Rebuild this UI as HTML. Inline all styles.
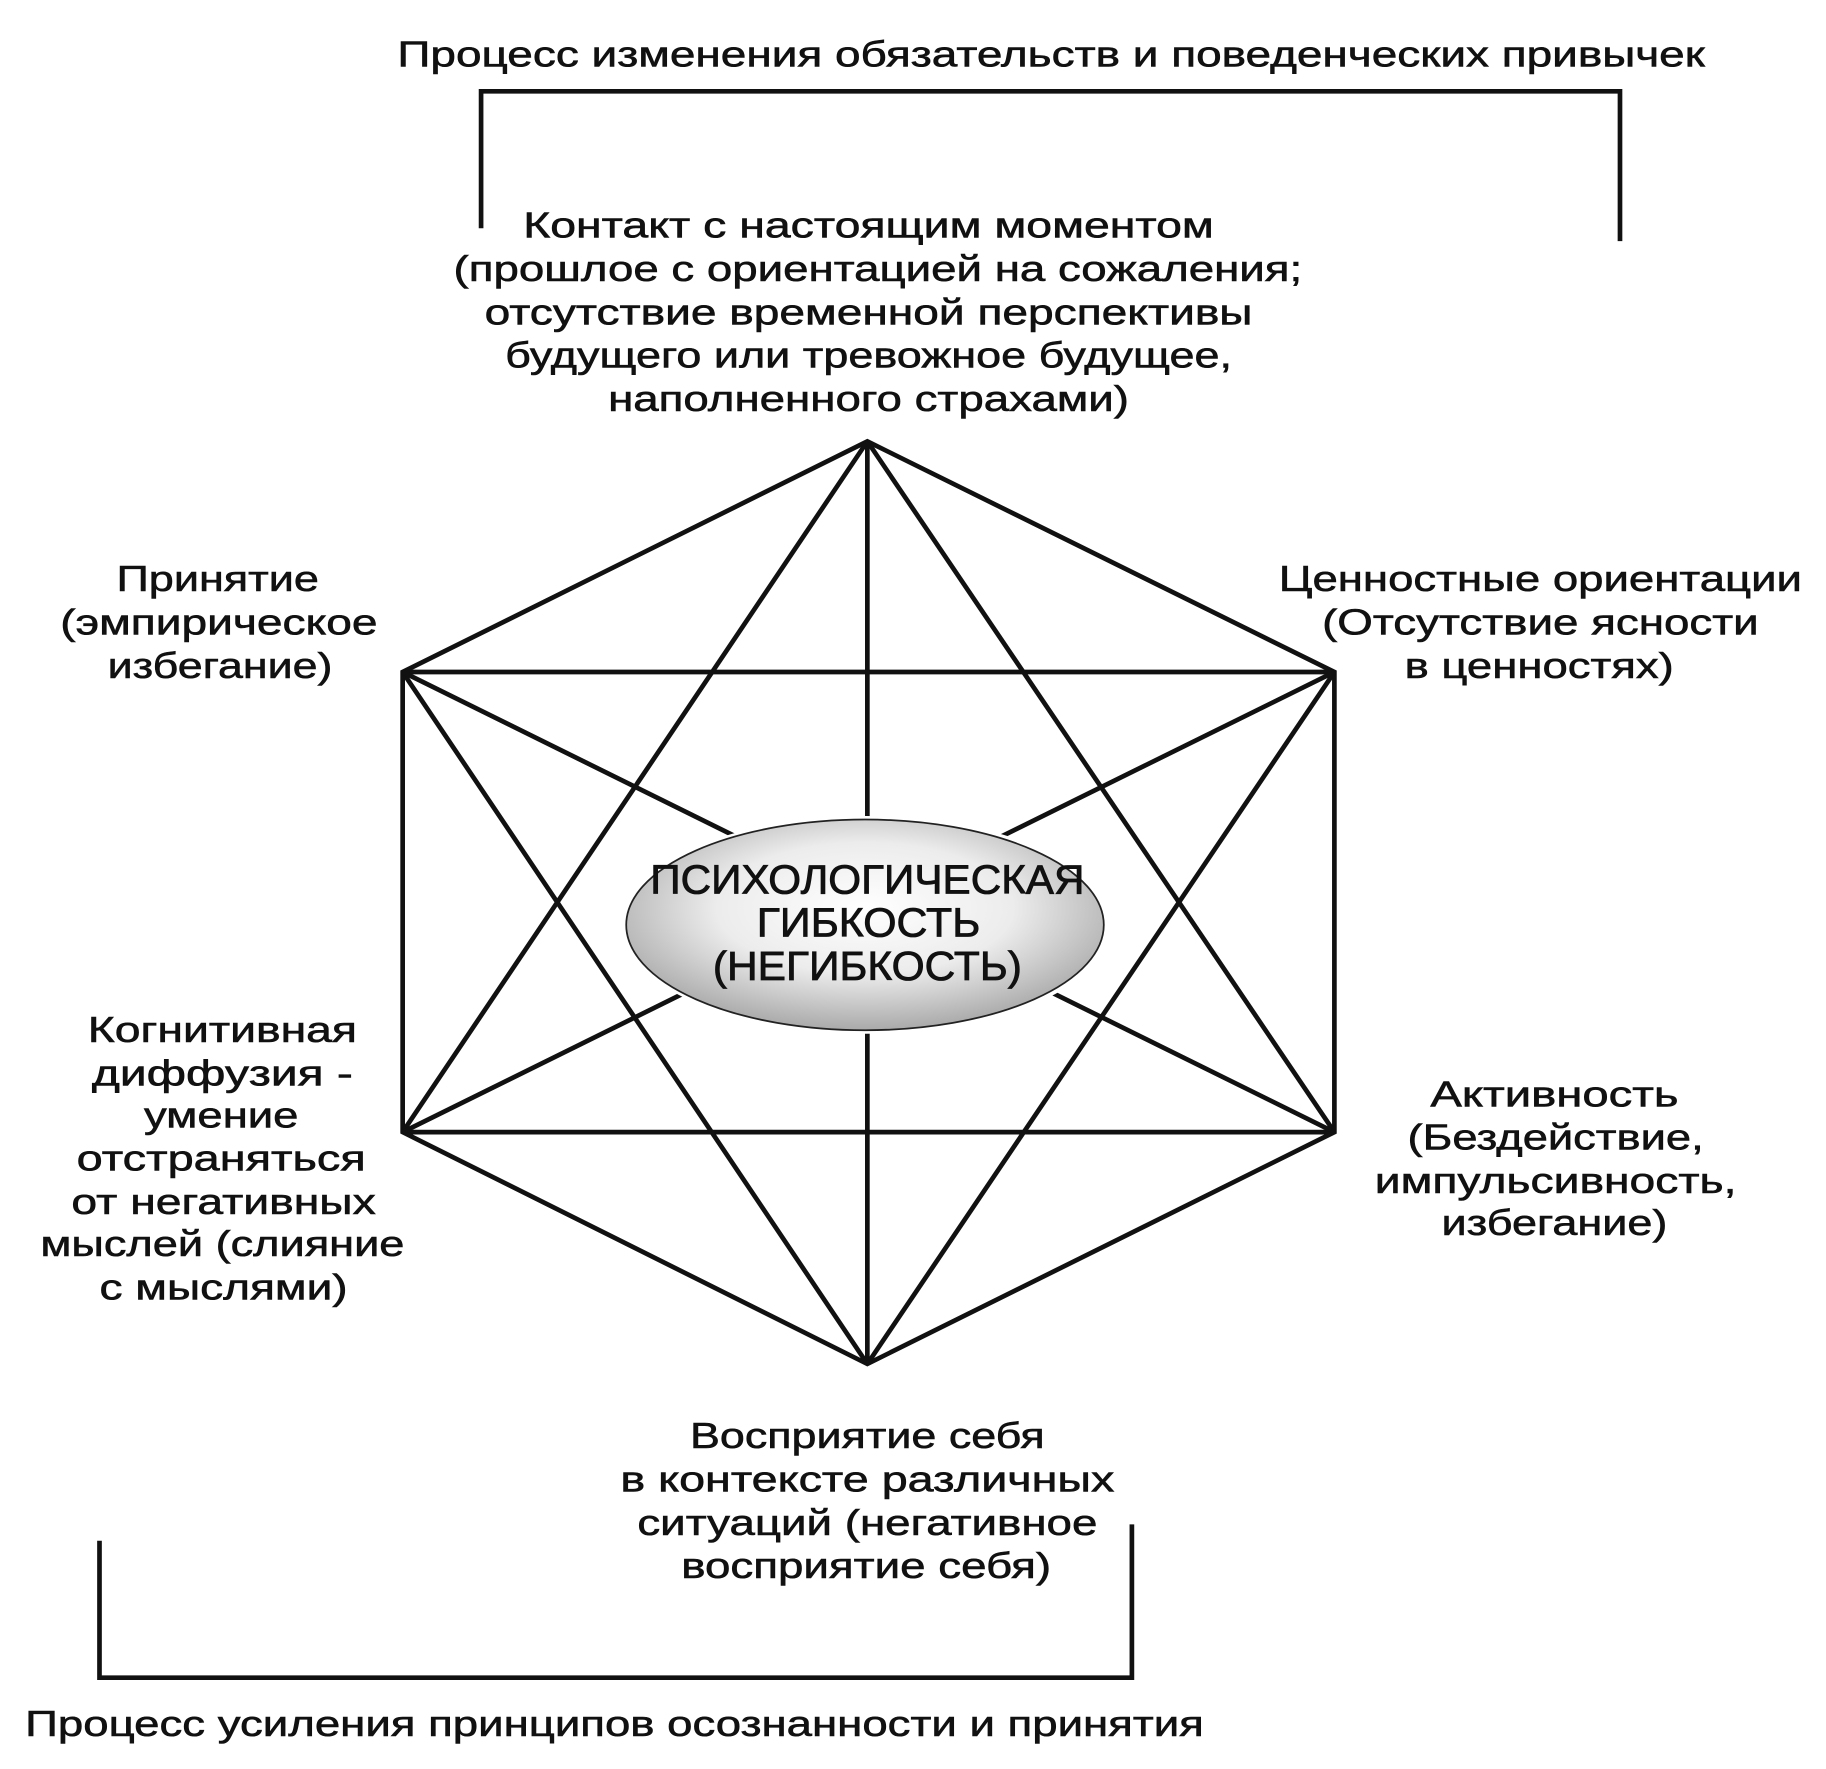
<!DOCTYPE html>
<html><head><meta charset="utf-8"><style>
html,body{margin:0;padding:0;background:#fff;}
svg{display:block;}
text{font-family:"Liberation Sans",sans-serif;fill:#111;font-size:31px;stroke:#111;stroke-width:0.5;}
.e{font-size:35px;stroke-width:0.7;}
</style></head><body>
<svg width="1826" height="1769" viewBox="0 0 1560 1511" preserveAspectRatio="none" xmlns="http://www.w3.org/2000/svg">
<defs>
<radialGradient id="g" cx="0.5" cy="0.42" r="0.62">
<stop offset="0" stop-color="#ffffff"/><stop offset="0.5" stop-color="#ececec"/><stop offset="1" stop-color="#a0a0a0"/>
</radialGradient>
</defs>
<g stroke="#111" stroke-width="4" fill="none" stroke-linejoin="miter">
<polyline points="411,195 411,78 1384,78 1384,206"/>
<polyline points="85,1316 85,1433 967,1433 967,1302"/>
<polygon points="741,377 1140,574 1140,967 741,1165 344,967 344,574"/>
<line x1="344" y1="574" x2="1140" y2="574"/>
<line x1="344" y1="967" x2="1140" y2="967"/>
<line x1="741" y1="377" x2="741" y2="1165"/>
<line x1="741" y1="377" x2="344" y2="967"/>
<line x1="741" y1="377" x2="1140" y2="967"/>
<line x1="741" y1="1165" x2="344" y2="574"/>
<line x1="741" y1="1165" x2="1140" y2="574"/>
<line x1="344" y1="574" x2="1140" y2="967"/>
<line x1="1140" y1="574" x2="344" y2="967"/>
</g>
<ellipse cx="740" cy="790" rx="209" ry="93" fill="#fff"/>
<ellipse cx="739" cy="790" rx="204" ry="90" fill="url(#g)" stroke="#222" stroke-width="1.5"/>
<g text-anchor="middle">
<text x="898" y="57" textLength="1117" lengthAdjust="spacingAndGlyphs">Процесс изменения обязательств и поведенческих привычек</text>
<text x="525" y="1483" textLength="1007" lengthAdjust="spacingAndGlyphs">Процесс усиления принципов осознанности и принятия</text>

<text x="742" y="203" textLength="590" lengthAdjust="spacingAndGlyphs">Контакт с настоящим моментом</text>
<text x="750" y="240" textLength="725" lengthAdjust="spacingAndGlyphs">(прошлое с ориентацией на сожаления;</text>
<text x="742" y="277" textLength="656" lengthAdjust="spacingAndGlyphs">отсутствие временной перспективы</text>
<text x="742" y="314" textLength="621" lengthAdjust="spacingAndGlyphs">будущего или тревожное будущее,</text>
<text x="742" y="351" textLength="445" lengthAdjust="spacingAndGlyphs">наполненного страхами)</text>

<text x="186" y="505" textLength="173" lengthAdjust="spacingAndGlyphs">Принятие</text>
<text x="187" y="542" textLength="271" lengthAdjust="spacingAndGlyphs">(эмпирическое</text>
<text x="188" y="579" textLength="192" lengthAdjust="spacingAndGlyphs">избегание)</text>

<text x="1316" y="505" textLength="447" lengthAdjust="spacingAndGlyphs">Ценностные ориентации</text>
<text x="1316" y="542" textLength="373" lengthAdjust="spacingAndGlyphs">(Отсутствие ясности</text>
<text x="1315" y="579" textLength="230" lengthAdjust="spacingAndGlyphs">в ценностях)</text>

<text class="e" x="741" y="763" textLength="371" lengthAdjust="spacingAndGlyphs">ПСИХОЛОГИЧЕСКАЯ</text>
<text class="e" x="742" y="800" textLength="191" lengthAdjust="spacingAndGlyphs">ГИБКОСТЬ</text>
<text class="e" x="741" y="837" textLength="264" lengthAdjust="spacingAndGlyphs">(НЕГИБКОСТЬ)</text>

<text x="190" y="890" textLength="230" lengthAdjust="spacingAndGlyphs">Когнитивная</text>
<text x="190" y="927" textLength="223" lengthAdjust="spacingAndGlyphs">диффузия -</text>
<text x="189" y="963" textLength="132" lengthAdjust="spacingAndGlyphs">умение</text>
<text x="189" y="1000" textLength="247" lengthAdjust="spacingAndGlyphs">отстраняться</text>
<text x="191" y="1037" textLength="260" lengthAdjust="spacingAndGlyphs">от негативных</text>
<text x="190" y="1073" textLength="311" lengthAdjust="spacingAndGlyphs">мыслей (слияние</text>
<text x="191" y="1110" textLength="212" lengthAdjust="spacingAndGlyphs">с мыслями)</text>

<text x="1328" y="945" textLength="212" lengthAdjust="spacingAndGlyphs">Активность</text>
<text x="1329" y="982" textLength="253" lengthAdjust="spacingAndGlyphs">(Бездействие,</text>
<text x="1329" y="1019" textLength="309" lengthAdjust="spacingAndGlyphs">импульсивность,</text>
<text x="1328" y="1055" textLength="193" lengthAdjust="spacingAndGlyphs">избегание)</text>

<text x="741" y="1237" textLength="303" lengthAdjust="spacingAndGlyphs">Восприятие себя</text>
<text x="741" y="1274" textLength="422" lengthAdjust="spacingAndGlyphs">в контексте различных</text>
<text x="741" y="1311" textLength="393" lengthAdjust="spacingAndGlyphs">ситуаций (негативное</text>
<text x="740" y="1348" textLength="316" lengthAdjust="spacingAndGlyphs">восприятие себя)</text>
</g>
</svg>
</body></html>
